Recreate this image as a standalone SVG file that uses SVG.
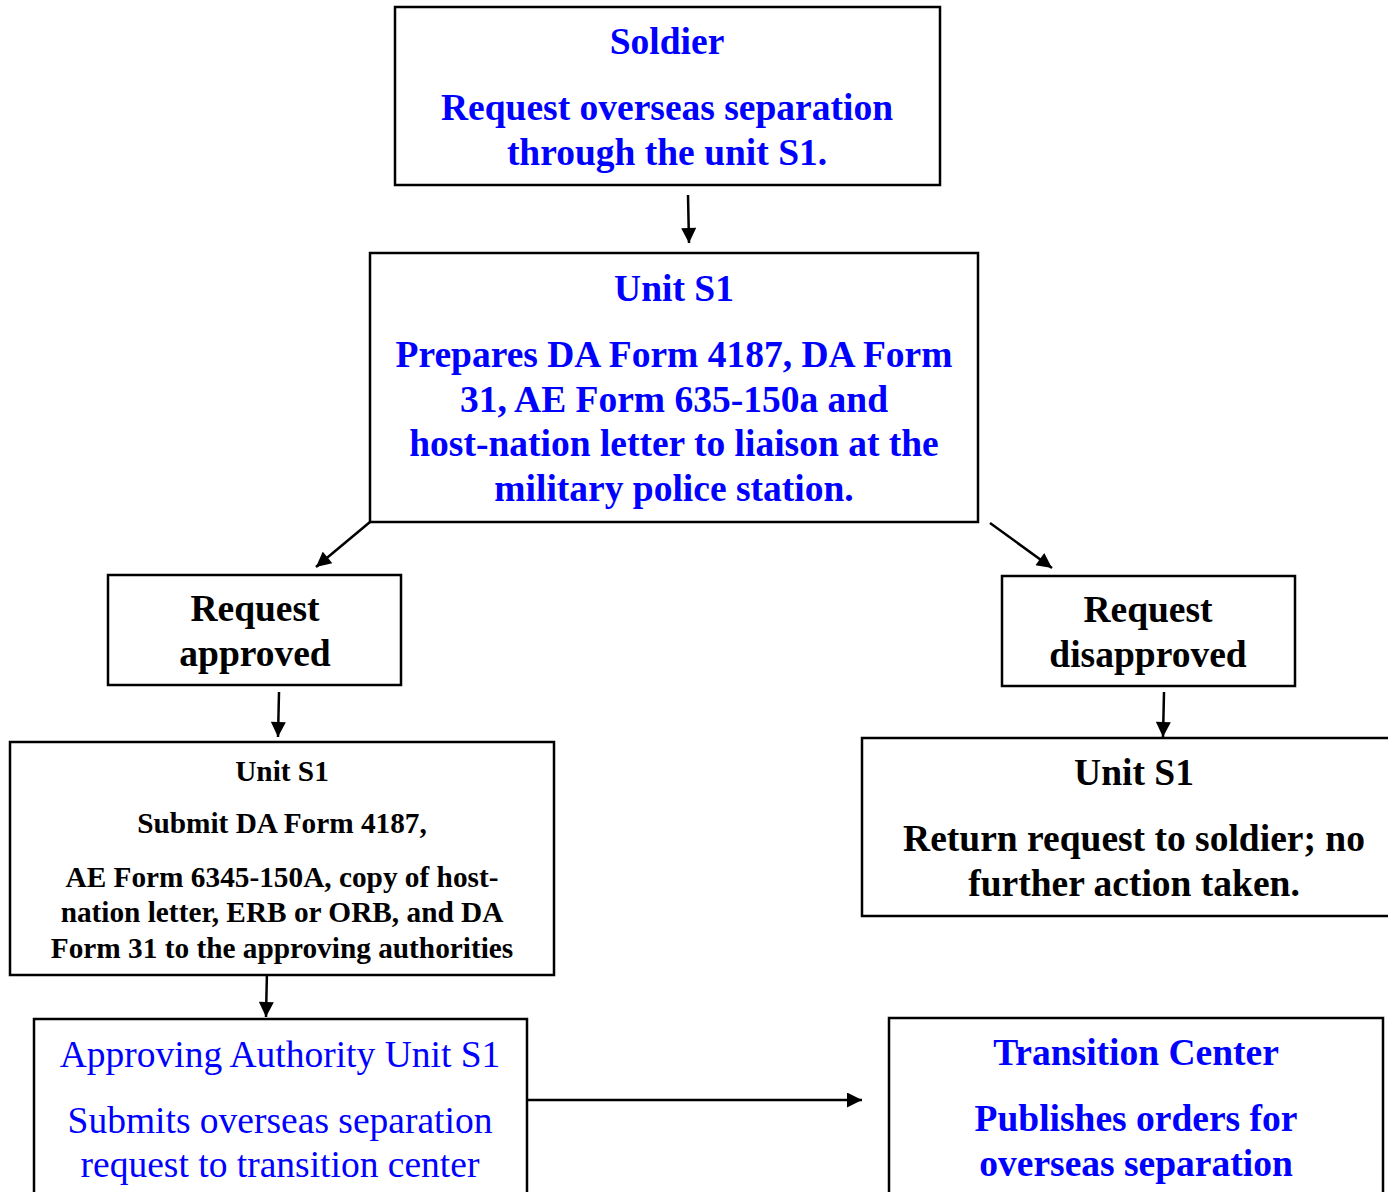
<svg xmlns="http://www.w3.org/2000/svg" width="1388" height="1192" viewBox="0 0 1388 1192">
<defs>
<style>
.box{fill:#fff;stroke:#000;stroke-width:2.5}
text{font-family:"Liberation Serif","Times New Roman",serif;text-anchor:middle;font-size:37.5px}
.b{font-weight:bold}
.blue{fill:#0000ff}
.blk{fill:#000}
.sm{font-size:29.3px}
.con{stroke:#000;stroke-width:2.5;fill:none;marker-end:url(#ah)}
</style>
<marker id="ah" viewBox="0 0 10 10" refX="10" refY="5" markerWidth="6.5" markerHeight="6" orient="auto" markerUnits="strokeWidth">
<path d="M0,0 L10,5 L0,10 z" fill="#000"/>
</marker>
</defs>
<rect width="1388" height="1192" fill="#fff"/>
<g id="connectors">
<line class="con" x1="688" y1="195" x2="689" y2="243"/>
<line class="con" x1="370" y1="522" x2="316" y2="567"/>
<line class="con" x1="990" y1="523" x2="1052" y2="568"/>
<line class="con" x1="279" y1="692" x2="278" y2="737"/>
<line class="con" x1="1164" y1="692" x2="1163" y2="737"/>
<line class="con" x1="267" y1="970" x2="266" y2="1017"/>
<line class="con" x1="527" y1="1100" x2="862" y2="1100"/>
</g>
<g id="soldier">
<rect class="box" x="395" y="7" width="545" height="178"/>
<text class="b blue" x="667" y="54">Soldier</text>
<text class="b blue" x="667" y="120">Request overseas separation</text>
<text class="b blue" x="667" y="165">through the unit S1.</text>
</g>
<g id="unit-s1-top">
<rect class="box" x="370" y="253" width="608" height="269"/>
<text class="b blue" x="674" y="301">Unit S1</text>
<text class="b blue" x="674" y="367">Prepares DA Form 4187, DA Form</text>
<text class="b blue" x="674" y="412">31, AE Form 635-150a and</text>
<text class="b blue" x="674" y="456">host-nation letter to liaison at the</text>
<text class="b blue" x="674" y="501">military police station.</text>
</g>
<g id="request-approved">
<rect class="box" x="108" y="575" width="293" height="110"/>
<text class="b blk" x="255" y="621">Request</text>
<text class="b blk" x="255" y="666">approved</text>
</g>
<g id="request-disapproved">
<rect class="box" x="1002" y="576" width="293" height="110"/>
<text class="b blk" x="1148" y="622">Request</text>
<text class="b blk" x="1148" y="667">disapproved</text>
</g>
<g id="unit-s1-left">
<rect class="box" x="10" y="742" width="544" height="233"/>
<text class="b blk sm" x="282" y="781">Unit S1</text>
<text class="b blk sm" x="282" y="833">Submit DA Form 4187,</text>
<text class="b blk sm" x="282" y="887">AE Form 6345-150A, copy of host-</text>
<text class="b blk sm" x="282" y="922">nation letter, ERB or ORB, and DA</text>
<text class="b blk sm" x="282" y="958">Form 31 to the approving authorities</text>
</g>
<g id="unit-s1-right">
<rect class="box" x="862" y="738" width="540" height="178"/>
<text class="b blk" x="1134" y="785">Unit S1</text>
<text class="b blk" x="1134" y="851">Return request to soldier; no</text>
<text class="b blk" x="1134" y="896">further action taken.</text>
</g>
<g id="approving-authority">
<rect class="box" x="34" y="1019" width="493" height="190"/>
<text class="blue" x="280" y="1067">Approving Authority Unit S1</text>
<text class="blue" x="280" y="1133">Submits overseas separation</text>
<text class="blue" x="280" y="1177">request to transition center</text>
</g>
<g id="transition-center">
<rect class="box" x="889" y="1018" width="494" height="190"/>
<text class="b blue" x="1136" y="1065">Transition Center</text>
<text class="b blue" x="1136" y="1131">Publishes orders for</text>
<text class="b blue" x="1136" y="1176">overseas separation</text>
</g>
</svg>
